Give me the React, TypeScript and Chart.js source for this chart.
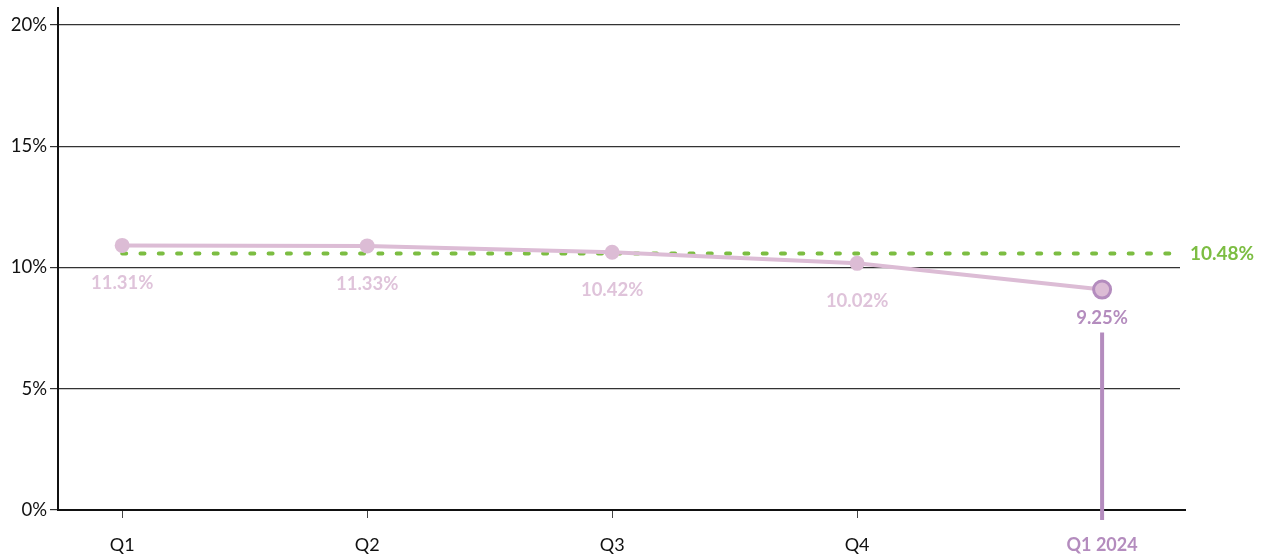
import React, { useEffect, useRef } from "react";
import { Chart, registerables } from "chart.js";

Chart.register(...registerables);

// ---- data ----
const categories: string[] = ["Q1", "Q2", "Q3", "Q4", "Q1 2024"];
// plotted positions as drawn in the reference (%)
const seriesValues: number[] = [10.91, 10.89, 10.63, 10.17, 9.09];
// printed value labels
const valueLabels: string[] = ["11.31%", "11.33%", "10.42%", "10.02%", "9.25%"];
const benchmarkValue: number = 10.58;
const benchmarkLabel: string = "10.48%";
const yTicks: number[] = [0, 5, 10, 15, 20];

const PINK = "#dcbcd5";
const PINK_TEXT = "#dfc3da";
const PURPLE = "#b48cbe";
const GREEN = "#7cbd42";
const FONT = "Lato, 'Open Sans', sans-serif";

const X_MIN = -0.262;
const X_MAX = 4.318;

export default function App() {
  const ref = useRef<HTMLCanvasElement | null>(null);

  useEffect(() => {
    const canvas = ref.current;
    if (!canvas) return;
    const last = seriesValues.length - 1;

    const overlay = {
      id: "overlay",
      afterDraw(chart: any) {
        const ctx = chart.ctx;
        const xs = chart.scales.x;
        const ys = chart.scales.y;
        const area = chart.chartArea;
        ctx.save();
        // value labels
        ctx.textAlign = "center";
        ctx.textBaseline = "middle";
        seriesValues.forEach((v, i) => {
          const px = xs.getPixelForValue(i);
          const py = ys.getPixelForValue(v);
          ctx.font = `bold 18.5px ${FONT}`;
          ctx.fillStyle = i === last ? PURPLE : PINK_TEXT;
          ctx.fillText(valueLabels[i], px, py + (i === last ? 28 : 38));
        });
        // benchmark label
        ctx.textAlign = "left";
        ctx.font = `bold 19px ${FONT}`;
        ctx.fillStyle = GREEN;
        ctx.fillText(benchmarkLabel, area.right + 10, ys.getPixelForValue(benchmarkValue));
        // vertical marker line at latest quarter
        const lx = xs.getPixelForValue(last);
        ctx.strokeStyle = PURPLE;
        ctx.lineWidth = 4;
        ctx.beginPath();
        ctx.moveTo(lx, ys.getPixelForValue(seriesValues[last]) + 43);
        ctx.lineTo(lx, area.bottom + 10);
        ctx.stroke();
        // x axis line extension
        ctx.strokeStyle = "#111";
        ctx.lineWidth = 2;
        ctx.beginPath();
        ctx.moveTo(area.right - 1, area.bottom);
        ctx.lineTo(area.right + 6, area.bottom);
        ctx.stroke();
        ctx.restore();
      },
    };

    const chart = new Chart(canvas, {
      type: "line",
      data: {
        datasets: [
          {
            label: "Series",
            data: seriesValues.map((v, i) => ({ x: i, y: v })),
            borderColor: PINK,
            borderWidth: 4,
            backgroundColor: PINK,
            pointBackgroundColor: PINK,
            pointBorderColor: seriesValues.map((_, i) => (i === last ? PURPLE : PINK)),
            pointBorderWidth: seriesValues.map((_, i) => (i === last ? 3 : 0)),
            pointRadius: seriesValues.map((_, i) => (i === last ? 8.5 : 7.5)),
            tension: 0,
            order: 0,
          },
          {
            label: "Benchmark",
            data: [
              { x: 0, y: benchmarkValue },
              { x: X_MAX, y: benchmarkValue },
            ],
            borderColor: GREEN,
            borderWidth: 4,
            borderDash: [4, 14.3],
            borderCapStyle: "round",
            pointRadius: 0,
            order: 1,
          },
        ],
      },
      options: {
        responsive: false,
        animation: false,
        events: [],
        layout: { autoPadding: false, padding: { top: 8, right: 88, left: 0, bottom: 0 } },
        plugins: {
          legend: { display: false },
          tooltip: { enabled: false },
        },
        scales: {
          x: {
            type: "linear",
            min: X_MIN,
            max: X_MAX,
            afterBuildTicks(scale: any) {
              scale.ticks = categories.map((_, i) => ({ value: i }));
            },
            afterFit(scale: any) {
              scale.height = 46;
              scale.paddingLeft = 0;
              scale.paddingRight = 0;
            },
            border: { display: true, color: "#111", width: 2 },
            grid: {
              drawOnChartArea: false,
              drawTicks: true,
              tickLength: 8,
              color: "#444",
              lineWidth: 1,
            },
            ticks: {
              autoSkip: false,
              maxRotation: 0,
              padding: 16,
              callback: (v: any) => categories[Number(v)] ?? "",
              color: (c: any) => (c.index === last ? PURPLE : "#111"),
              font: (c: any) => ({
                family: FONT,
                size: 18,
                weight: c.index === last ? "bold" : "normal",
              }),
            },
          },
          y: {
            type: "linear",
            min: 0,
            max: 20.7,
            afterBuildTicks(scale: any) {
              scale.ticks = yTicks.map((v) => ({ value: v }));
            },
            afterFit(scale: any) {
              scale.width = 58;
              scale.paddingTop = 0;
              scale.paddingBottom = 0;
            },
            border: { display: true, color: "#111", width: 2 },
            grid: {
              color: "#333",
              lineWidth: 1.2,
              drawTicks: true,
              tickLength: 8,
            },
            ticks: {
              padding: 3,
              color: "#111",
              font: { family: FONT, size: 18.5 },
              callback: (v: any) => `${v}%`,
            },
          },
        },
      },
      plugins: [overlay],
    } as any);

    return () => chart.destroy();
  }, []);

  return (
    <div style={{ position: "fixed", left: 0, top: 0, width: 1268, height: 556, background: "#fff" }}>
      <canvas ref={ref} width={1268} height={556} style={{ display: "block" }} />
    </div>
  );
}
